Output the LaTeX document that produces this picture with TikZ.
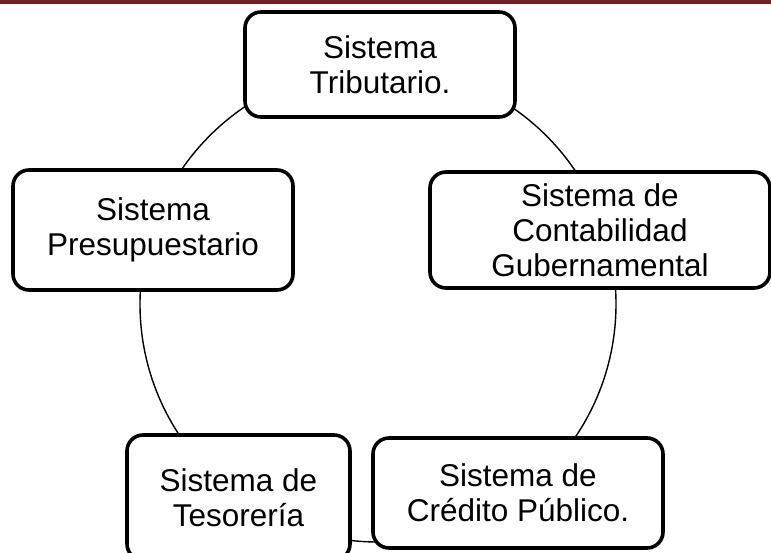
\documentclass[tikz,border=0pt]{standalone}
\usepackage{fontspec}
\setmainfont{Liberation Sans}
\definecolor{barred}{RGB}{110,34,38}
\begin{document}
\begin{tikzpicture}[x=1pt,y=-1pt,
  sysbox/.style={draw=black, line width=3.6pt, rounded corners=16pt, fill=white,
    align=center, inner sep=0pt, font=\fontsize{31.5}{35}\selectfont},
  ring/.style={draw=black, line width=1.4pt}]
\clip (0,0) rectangle (771,552);
\useasboundingbox (0,0) rectangle (771,552);
\fill[barred] (0,0) rectangle (771,3.5);
\coordinate (ctr) at (378,304);
\draw[ring] (ctr) circle[radius=238];
\node[sysbox, minimum width=270pt, minimum height=105pt] (trib) at (380,64.5) {Sistema\\Tributario.};
\node[sysbox, minimum width=340pt, minimum height=116pt] (cont) at (600,230) {Sistema de\\Contabilidad\\Gubernamental};
\node[sysbox, minimum width=280pt, minimum height=120pt] (pres) at (153,230) {Sistema\\Presupuestario};
\node[sysbox, minimum width=223pt, minimum height=125pt] (teso) at (238.5,497.5) {Sistema de\\Tesorería};
\node[sysbox, minimum width=290pt, minimum height=110pt] (cred) at (518,493) {Sistema de\\Crédito Público.};
\end{tikzpicture}
\end{document}
